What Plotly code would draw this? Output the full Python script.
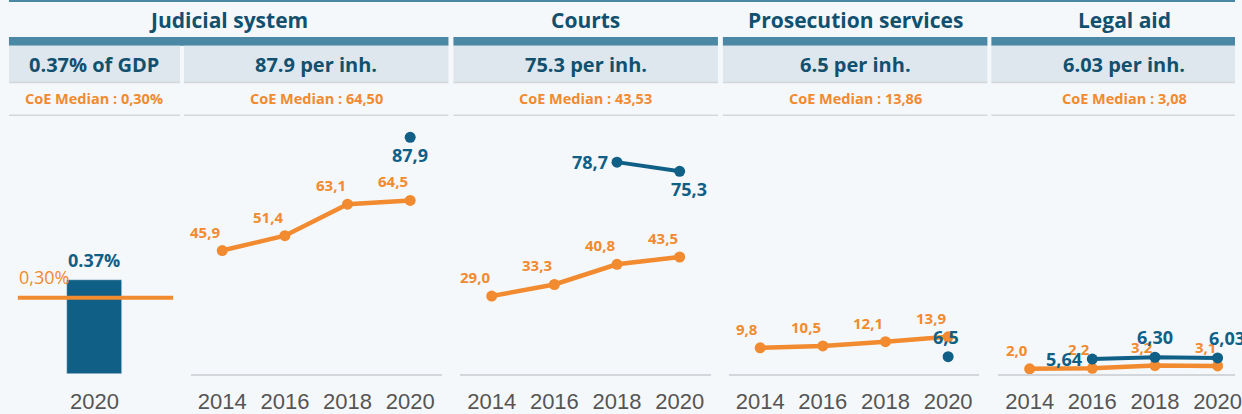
import plotly.graph_objects as go

W, H = 1242, 414

# ---------------- data ----------------
years = ["2014", "2016", "2018", "2020"]
panel_titles = ["Judicial system", "Courts", "Prosecution services", "Legal aid"]

gdp_year = ["2020"]
gdp_share = [0.37]
gdp_share_median = 0.30

judicial_country = [None, None, None, 87.9]
judicial_median = [45.9, 51.4, 63.1, 64.5]
courts_country = [None, None, 78.7, 75.3]
courts_median = [29.0, 33.3, 40.8, 43.5]
prosecution_country = [None, None, None, 6.5]
prosecution_median = [9.8, 10.5, 12.1, 13.9]
legalaid_country = [None, 5.64, 6.30, 6.03]
legalaid_median = [2.0, 2.2, 3.2, 3.1]

box_values = ["0.37% of GDP", "87.9 per inh.", "75.3 per inh.", "6.5 per inh.", "6.03 per inh."]
coe_medians = ["0,30%", "64,50", "43,53", "13,86", "3,08"]
country_decimals = [1, 1, 1, 2]

# ---------------- style ----------------
BLUE = "#0f5f86"
ORANGE = "#f28a2f"
DARK = "#11506f"
BAND = "#4b88a5"
BOX = "#dee7ee"
BG = "#f5f8fa"
SEP = "#d3d7db"
TICK = "#555555"
HFONT = "Open Sans, Noto Sans, sans-serif"
TFONT = "Liberation Sans, Arial, sans-serif"


def px(x):
    return x / W


def py(y):
    return 1 - y / H


fig = go.Figure()

Y_BOT, Y_TOP = 383.5, 125
ydom = [py(Y_BOT), py(Y_TOP)]

# panel 1 : bar
fig.add_trace(go.Bar(x=gdp_year, y=gdp_share, marker_color=BLUE, width=0.64,
                     xaxis="x", yaxis="y", showlegend=False, hoverinfo="skip"))

line_panels = [
    (judicial_country, judicial_median),
    (courts_country, courts_median),
    (prosecution_country, prosecution_median),
    (legalaid_country, legalaid_median),
]
line_domains = [(192, 445), (463, 715), (733, 985), (1004, 1242)]
ppu = 63.0  # pixels per category step

# blue label placement per point: (xanchor, yanchor, xshift, yshift)
blue_pos = [
    {3: ("center", "top", 0, -4)},
    {2: ("right", "middle", -7, 0), 3: ("left", "top", -11, -4)},
    {3: ("center", "bottom", -2, 6)},
    {1: ("right", "middle", -8, 0), 2: ("center", "bottom", 0, 6), 3: ("left", "bottom", -11, 6)},
]

annotations = []
for i, (country, median) in enumerate(line_panels):
    ax = i + 2
    xs, ys = f"x{ax}", f"y{ax}"
    fig.add_trace(go.Scatter(x=years, y=median, mode="lines+markers",
                             line=dict(color=ORANGE, width=4.5),
                             marker=dict(color=ORANGE, size=11),
                             xaxis=xs, yaxis=ys, showlegend=False, hoverinfo="skip",
                             cliponaxis=False))
    fig.add_trace(go.Scatter(x=years, y=country, mode="lines+markers",
                             line=dict(color=BLUE, width=4),
                             marker=dict(color=BLUE, size=11),
                             xaxis=xs, yaxis=ys, showlegend=False, hoverinfo="skip",
                             connectgaps=False, cliponaxis=False))
    for j, v in enumerate(median):
        annotations.append(dict(x=j, y=v, xref=xs, yref=ys, text=f"{v:.1f}".replace(".", ","),
                                showarrow=False, xanchor="right", yanchor="bottom",
                                xshift=0, yshift=7,
                                font=dict(family=HFONT, size=15, color=ORANGE, weight=700)))
    for j, v in enumerate(country):
        if v is None:
            continue
        xa, ya, xsh, ysh = blue_pos[i][j]
        annotations.append(dict(x=j, y=v, xref=xs, yref=ys,
                                text=f"{v:.{country_decimals[i]}f}".replace(".", ","),
                                showarrow=False, xanchor=xa, yanchor=ya, xshift=xsh, yshift=ysh,
                                font=dict(family=HFONT, size=18, color=BLUE, weight=700)))

# panel 1 labels
annotations.append(dict(x=0, y=gdp_share[0], xref="x", yref="y",
                        text=f"{gdp_share[0]:.2f}%", showarrow=False,
                        xanchor="center", yanchor="bottom", yshift=6,
                        font=dict(family=HFONT, size=18, color=BLUE, weight=700)))
annotations.append(dict(x=0.047, y=gdp_share_median, xref="x domain", yref="y",
                        text=f"{gdp_share_median:.2f}%".replace(".", ","), showarrow=False,
                        xanchor="left", yanchor="bottom", yshift=7,
                        font=dict(family=HFONT, size=18, color=ORANGE)))

# ---------------- header ----------------
groups = [(9, 451), (456, 722), (727, 993), (997, 1264)]
boxes = [(9, 181), (185, 451), (456, 722), (727, 993), (997, 1264)]

shapes = []
shapes.append(dict(type="rect", xref="paper", yref="paper", x0=px(9), x1=1,
                   y0=py(2), y1=py(0), fillcolor=BAND, line_width=0, layer="below"))
for (a, b), title in zip(groups, panel_titles):
    shapes.append(dict(type="rect", xref="paper", yref="paper", x0=px(a), x1=min(px(b), 1),
                       y0=py(47), y1=py(38), fillcolor=BAND, line_width=0, layer="below"))
    annotations.append(dict(x=px((a + b) / 2), y=py(20), xref="paper", yref="paper",
                            text=title, showarrow=False, xanchor="center", yanchor="middle",
                            font=dict(family=HFONT, size=21, color=DARK, weight=700)))
for (a, b), val, med in zip(boxes, box_values, coe_medians):
    x0, x1 = px(a), min(px(b), 1)
    shapes.append(dict(type="rect", xref="paper", yref="paper", x0=x0, x1=x1,
                       y0=py(84), y1=py(47), fillcolor=BOX, line_width=0, layer="below"))
    shapes.append(dict(type="line", xref="paper", yref="paper", x0=x0, x1=x1,
                       y0=py(84.5), y1=py(84.5), line=dict(color=SEP, width=1.5), layer="below"))
    shapes.append(dict(type="line", xref="paper", yref="paper", x0=x0, x1=x1,
                       y0=py(118), y1=py(118), line=dict(color=SEP, width=1.5), layer="below"))
    annotations.append(dict(x=px((a + b) / 2), y=py(66), xref="paper", yref="paper",
                            text=val, showarrow=False, xanchor="center", yanchor="middle",
                            font=dict(family=HFONT, size=20, color=DARK, weight=700)))
    annotations.append(dict(x=px((a + b) / 2), y=py(101), xref="paper", yref="paper",
                            text=f"CoE Median : {med}", showarrow=False, xanchor="center",
                            yanchor="middle",
                            font=dict(family=HFONT, size=14.5, color=ORANGE, weight=700)))

# median line in panel 1
shapes.append(dict(type="line", xref="x domain", yref="y", x0=0.052, x1=0.96,
                   y0=gdp_share_median, y1=gdp_share_median,
                   line=dict(color=ORANGE, width=4)))

layout = dict(
    width=W, height=H, autosize=False,
    margin=dict(l=0, r=0, t=0, b=0, pad=0),
    paper_bgcolor=BG, plot_bgcolor=BG,
    showlegend=False, bargap=0,
    shapes=shapes, annotations=annotations,
)

tickfont = dict(family=TFONT, size=22, color=TICK)
layout["xaxis"] = dict(domain=[px(9), px(181)], type="category", range=[-1, 1],
                       showline=True, linecolor=BG, linewidth=1.5,
                       showgrid=False, zeroline=False, ticks="",
                       tickfont=tickfont, ticklabelstandoff=7, fixedrange=True)
layout["yaxis"] = dict(domain=ydom, range=[0, 0.99], visible=False, fixedrange=True)
for i, (a, b) in enumerate(line_domains):
    ax = i + 2
    width_px = b - a
    layout[f"xaxis{ax}"] = dict(domain=[px(a), px(b)], type="category",
                                categoryorder="array", categoryarray=years,
                                range=[-0.5, -0.5 + width_px / ppu],
                                showline=True, linecolor=SEP, linewidth=1.5,
                                showgrid=False, zeroline=False, ticks="",
                                tickfont=tickfont, ticklabelstandoff=7,
                                anchor=f"y{ax}", fixedrange=True)
    layout[f"yaxis{ax}"] = dict(domain=ydom, range=[0, 93.6], visible=False,
                                anchor=f"x{ax}", fixedrange=True)

fig.update_layout(**layout)
fig.write_html("out.html", config={"displayModeBar": False},
               post_script="document.body.style.margin='0';document.body.style.overflow='hidden';")
